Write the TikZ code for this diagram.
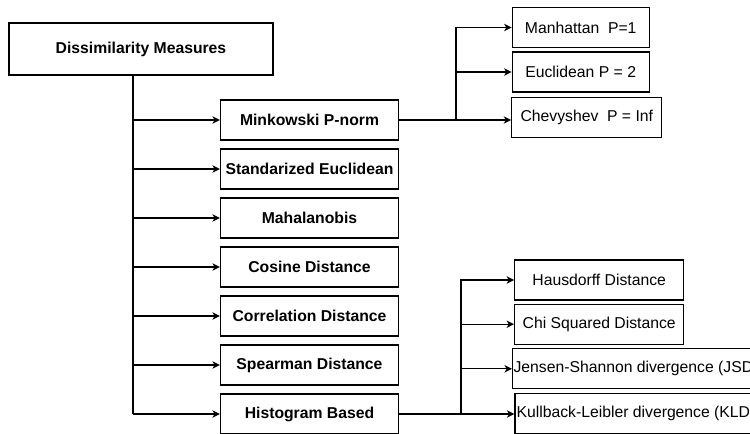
\documentclass[tikz,border=0pt]{standalone}
\usepackage{fontspec}
\setmainfont{Liberation Sans}
\usetikzlibrary{arrows.meta}

\tikzset{every picture/.style={line width=0.75pt}}
\tikzset{
  box/.style={draw, line width=1pt, inner sep=0.75pt, align=center,
    font=\fontsize{11.8}{14}\selectfont, minimum height=40*0.75pt},
  rootbox/.style={box, font=\fontsize{11.8}{14}\selectfont\bfseries,
    minimum width=264*0.75pt, minimum height=52*0.75pt},
  measbox/.style={box, font=\fontsize{11.8}{14}\selectfont\bfseries,
    minimum width=178*0.75pt},
  leafbox/.style={box},
  link/.style={line width=1pt},
  arr/.style={link, -{Stealth[length=5.5pt,width=5.5pt,inset=1.5pt]}}
}

\begin{document}
\begin{tikzpicture}[x=0.75pt,y=0.75pt,yscale=-1,xscale=1]
%set diagram size 750 x 433
\useasboundingbox (0,0) rectangle (750,433);

%Shape: Rectangle (root)
\node[rootbox] (dm) at (141,49) {Dissimilarity Measures};

%Shape: Rectangle (measures)
\node[measbox] (mink) at (309.5,120) {Minkowski P-norm};
\node[measbox] (std) at (309.5,169) {Standarized Euclidean};
\node[measbox] (maha) at (309.5,218) {Mahalanobis};
\node[measbox] (cos) at (309.5,267) {Cosine Distance};
\node[measbox] (corr) at (309.5,316) {Correlation Distance};
\node[measbox] (spear) at (309.5,365) {Spearman Distance};
\node[measbox] (hist) at (309.5,414) {Histogram Based};

%Shape: Rectangle (p-norm cases)
\node[leafbox, minimum width=137*0.75pt] (manh) at (580.7,27.5) {Manhattan\ \ P=1};
\node[leafbox, minimum width=137*0.75pt] (eucl) at (580.7,72) {Euclidean P = 2};
\node[leafbox, minimum width=150*0.75pt] (chev) at (586.8,117.5) {Chevyshev\ \ P = Inf};

%Shape: Rectangle (histogram cases)
\node[leafbox, minimum width=169*0.75pt] (haus) at (599.2,280) {Hausdorff Distance};
\node[leafbox, minimum width=169*0.75pt] (chi) at (599.2,324.2) {Chi Squared Distance};
\node[leafbox, minimum width=242*0.75pt] (jsd) at (636,368.8) {Jensen-Shannon divergence (JSD)};
\node[leafbox, minimum width=242*0.75pt] (kld) at (636,413.7) {Kullback-Leibler divergence (KLD)};

%Straight Lines (trunk)
\coordinate (trk) at (133,75);
\draw[link] (trk) -- (trk |- hist.west);
\draw[arr] (trk |- mink.west) -- (mink.west);
\draw[arr] (trk |- std.west) -- (std.west);
\draw[arr] (trk |- maha.west) -- (maha.west);
\draw[arr] (trk |- cos.west) -- (cos.west);
\draw[arr] (trk |- corr.west) -- (corr.west);
\draw[arr] (trk |- spear.west) -- (spear.west);
\draw[arr] (trk |- hist.west) -- (hist.west);

%Straight Lines (p-norm branch)
\coordinate (jt) at (456,120);
\draw[link] (mink.east) -- (jt);
\draw[arr] (jt) -- (jt -| chev.west);
\draw[arr] (jt) |- (eucl.west);
\draw[arr] (jt) |- (manh.west);

%Straight Lines (histogram branch)
\coordinate (jb) at (461,414);
\draw[link] (hist.east) -- (jb);
\draw[arr] (jb) -- (jb -| kld.west);
\draw[arr] (jb) |- (jsd.west);
\draw[arr] (jb) |- (chi.west);
\draw[arr] (jb) |- (haus.west);

\end{tikzpicture}
\end{document}
